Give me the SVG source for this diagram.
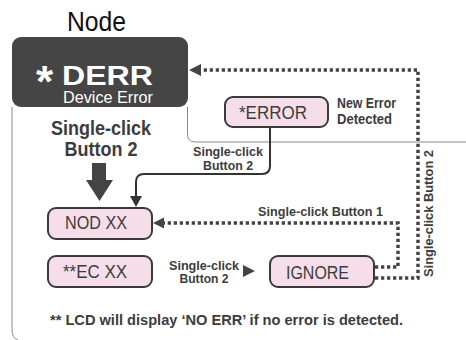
<svg xmlns="http://www.w3.org/2000/svg" width="466" height="340" viewBox="0 0 466 340">
<style>
text{font-family:"Liberation Sans",Arial,sans-serif;fill:#3c3c3c}
.b{font-weight:bold}
.box{fill:#f5dee9;stroke:#3a3a3a;stroke-width:2}
.dot{fill:none;stroke:#444;stroke-width:3.5;stroke-dasharray:3.3 2.7}
.thin{fill:none;stroke:#8a8a8a;stroke-width:1}
.solid{fill:none;stroke:#333;stroke-width:2}
.head{fill:#444}
.bt{font-size:19px}
.lbl{font-size:12.5px;font-weight:bold;text-anchor:middle}
</style>
<rect width="466" height="340" fill="#fff"/>
<g id="frame">
<path class="thin" d="M12,107 V330 Q12,338 18,340"/>
<path class="thin" d="M187.5,107 V134 Q187.5,142 195,142 H466"/>
</g>
<g id="node-derr">
<text x="96.5" y="31" font-size="28" text-anchor="middle" textLength="59" lengthAdjust="spacingAndGlyphs" style="fill:#111">Node</text>
<rect x="12" y="37" width="176" height="70" rx="9" fill="#454545"/>
<text x="36" y="97" font-size="44" class="b" style="fill:#fff">*</text>
<text x="62" y="84.5" font-size="27.5" class="b" textLength="91" lengthAdjust="spacingAndGlyphs" style="fill:#fff">DERR</text>
<text x="63" y="102.5" font-size="16" textLength="90" lengthAdjust="spacingAndGlyphs" style="fill:#fff">Device Error</text>
</g>
<g id="node-error">
<rect class="box" x="225" y="97" width="103" height="30" rx="8"/>
<text class="bt" x="239" y="119" textLength="68" lengthAdjust="spacingAndGlyphs">*ERROR</text>
<text class="b" x="337" y="108" font-size="14" textLength="59" lengthAdjust="spacingAndGlyphs">New Error</text>
<text class="b" x="337" y="124" font-size="14" textLength="55" lengthAdjust="spacingAndGlyphs">Detected</text>
</g>
<g id="node-nod">
<rect class="box" x="48" y="208" width="104" height="31" rx="8"/>
<text class="bt" x="65" y="229" textLength="62" lengthAdjust="spacingAndGlyphs">NOD XX</text>
</g>
<g id="node-ec">
<rect class="box" x="48" y="256" width="104" height="31" rx="8"/>
<text class="bt" x="63" y="278" textLength="64" lengthAdjust="spacingAndGlyphs">**EC XX</text>
</g>
<g id="node-ignore">
<rect class="box" x="270" y="256" width="104" height="31" rx="8"/>
<text class="bt" x="286" y="279" textLength="63" lengthAdjust="spacingAndGlyphs">IGNORE</text>
</g>
<g id="connectors">
<path class="dot" d="M375,278 H418 V70 H199"/>
<polygon class="head" points="189,70 201,64 201,76"/>
<path class="dot" d="M375,267 H398 V223 H162"/>
<polygon class="head" points="153,223 164,217.5 164,228.5"/>
<path class="solid" d="M270,127 V166 Q270,174 262,174 H144 Q136,174 136,182 V197"/>
<polygon class="head" points="130,196 142,196 136,207" style="fill:#333"/>
<polygon class="head" points="92,163 106,163 106,180 113,180 99.5,201 86,180 92,180"/>
<polygon class="head" points="243,265 255,271 243,277"/>
<text class="b" x="101" y="135" font-size="19.5" text-anchor="middle" textLength="100" lengthAdjust="spacingAndGlyphs">Single-click</text>
<text class="b" x="101" y="156" font-size="19.5" text-anchor="middle" textLength="73" lengthAdjust="spacingAndGlyphs">Button 2</text>
<text class="lbl" x="228" y="156" textLength="70" lengthAdjust="spacingAndGlyphs">Single-click</text>
<text class="lbl" x="228" y="170" textLength="50" lengthAdjust="spacingAndGlyphs">Button 2</text>
<text class="lbl" x="204" y="270" textLength="70" lengthAdjust="spacingAndGlyphs">Single-click</text>
<text class="lbl" x="204" y="283" textLength="49" lengthAdjust="spacingAndGlyphs">Button 2</text>
<text class="b" x="258" y="216" font-size="13" textLength="125" lengthAdjust="spacingAndGlyphs">Single-click Button 1</text>
<text class="lbl" font-size="13" transform="translate(433,213.5) rotate(-90)" textLength="127" lengthAdjust="spacingAndGlyphs">Single-click Button 2</text>
</g>
<text class="b" x="50" y="325" font-size="14.5" textLength="353" lengthAdjust="spacingAndGlyphs">** LCD will display ‘NO ERR’ if no error is detected.</text>
</svg>
